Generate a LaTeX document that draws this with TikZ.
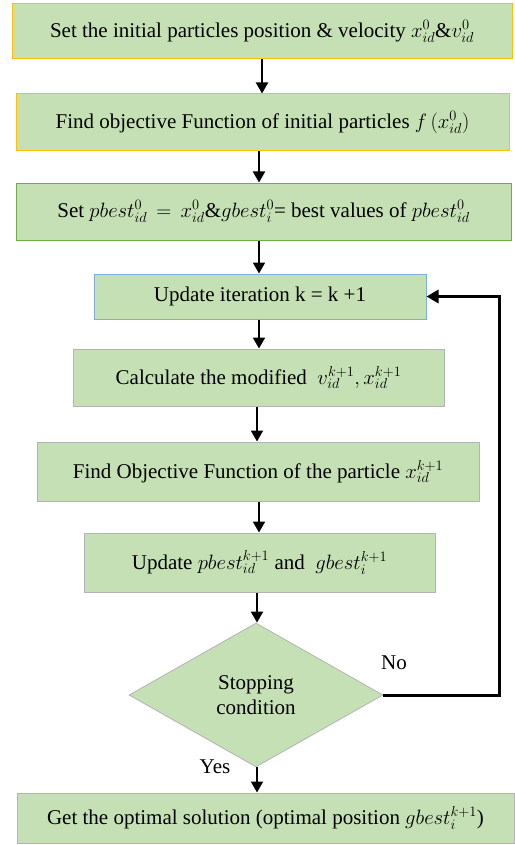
\documentclass[tikz,border=0pt]{standalone}
\usepackage{fontspec}
\setmainfont{Liberation Serif}
\usetikzlibrary{arrows.meta,shapes.geometric}
\definecolor{boxfill}{HTML}{C5E0B4}
\definecolor{orangeb}{HTML}{FFC000}
\definecolor{greenb}{HTML}{70AD47}
\definecolor{blueb}{HTML}{7FAEDB}
\definecolor{greyb}{HTML}{B4B4B4}
\tikzset{
  box/.style={rectangle, fill=boxfill, line width=1pt, inner sep=0pt, font=\fontsize{21}{25}\selectfont},
  dia/.style={diamond, fill=boxfill, draw=greyb, line width=0.8pt, inner sep=0pt, aspect=1.76, font=\fontsize{21}{25}\selectfont, align=center},
  arr/.style={line width=2pt, -{Triangle[length=11pt,width=12pt]}},
  loop/.style={line width=3pt, -{Triangle[length=12pt,width=13pt]}},
  lbl/.style={font=\fontsize{21}{25}\selectfont}
}
\begin{document}
\begin{tikzpicture}[x=1pt,y=-1pt]
\useasboundingbox (0,0) rectangle (514,845);
\node[box, draw=orangeb, minimum width=500pt, minimum height=55pt] (b1) at (262,31.5)
  {Set the initial particles position \& velocity $x_{id}^{0}\&v_{id}^{0}$};
\node[box, draw=orangeb, minimum width=493pt, minimum height=57pt] (b2) at (262.5,122.5)
  {Find objective Function of initial particles $f\,(x_{id}^{0})$};
\node[box, draw=greenb, minimum width=495pt, minimum height=57pt] (b3) at (263.5,211.5)
  {Set $pbest_{id}^{0}\,=\,x_{id}^{0}\&gbest_{i}^{0}$= best values of $pbest_{id}^{0}$};
\node[box, draw=blueb, minimum width=332pt, minimum height=45pt] (b4) at (260,296.5)
  {Update iteration k = k +1};
\node[box, draw=greyb, minimum width=371pt, minimum height=57pt] (b5) at (258.5,377.5)
  {Calculate the modified \ $v_{id}^{k+1}, x_{id}^{k+1}$};
\node[box, draw=greyb, minimum width=442pt, minimum height=59pt] (b6) at (258,471.5)
  {Find Objective Function of the particle $x_{id}^{k+1}$};
\node[box, draw=greyb, minimum width=351pt, minimum height=59pt] (b7) at (259.5,562.5)
  {Update $pbest_{id}^{k+1}$ and \ $gbest_{i}^{k+1}$};
\node[dia, minimum width=254pt, minimum height=144pt] (d) at (256,695)
  {Stopping\\condition};
\node[box, draw=greyb, minimum width=497pt, minimum height=50pt] (b8) at (265.5,818)
  {Get the optimal solution (optimal position $gbest_{i}^{k+1}$)};
\node[lbl] (no) at (394,663) {No};
\node[lbl] (yes) at (215,767) {Yes};
\coordinate (c1) at (499,695);
\coordinate (c2) at (499,296.5);
\draw[arr] (b1.south) -- (b2.north -| b1.south);
\draw[arr] (b2.south -| 259,0) -- (b3.north -| 259,0);
\draw[arr] (b3.south -| 259,0) -- (b4.north -| 259,0);
\draw[arr] (b4.south -| 259,0) -- (b5.north -| 259,0);
\draw[arr] (b5.south -| 257,0) -- (b6.north -| 257,0);
\draw[arr] (b6.south -| 259,0) -- (b7.north -| 259,0);
\draw[arr] (b7.south -| 257,0) -- (d.north -| 257,0);
\draw[arr] (d.south -| 257,0) -- (b8.north -| 257,0);
\draw[loop] (d.east) -- (c1) -- (c2) -- (b4.east);
\end{tikzpicture}
\end{document}
